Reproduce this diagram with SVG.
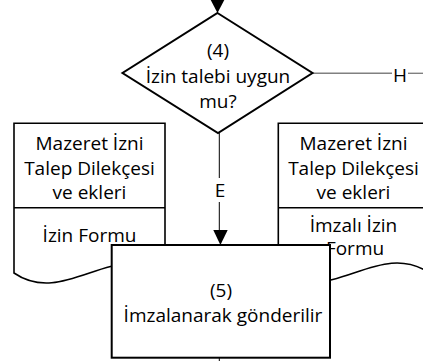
<svg xmlns="http://www.w3.org/2000/svg" width="423" height="361" viewBox="0 0 423 361">
<style>
.t{font-family:"Open Sans","Noto Sans","Liberation Sans",sans-serif;font-size:19px;fill:#000;text-anchor:middle}
.shape{fill:#fff;stroke:#000;stroke-width:1.6}
.thick{fill:#fff;stroke:#000;stroke-width:2}
.conn{fill:none;stroke:#000;stroke-width:1}
.gray{fill:none;stroke:#808080;stroke-width:1.4}
</style>
<rect width="423" height="361" fill="#fff"/>
<g id="doc-left">
<path class="shape" d="M14,273 L14,123.3 L165,123.3 L165,273 C114.7,238.4 64.3,307.6 14,273 Z"/>
<line class="shape" x1="14" y1="207.7" x2="165" y2="207.7"/>
<text class="t" x="89.5" y="150">Mazeret İzni</text>
<text class="t" x="89.5" y="175">Talep Dilekçesi</text>
<text class="t" x="89.5" y="199">ve ekleri</text>
<text class="t" x="89.5" y="241.5">İzin Formu</text>
</g>
<g id="doc-right">
<path class="shape" d="M278.3,273 L278.3,123.3 L429.3,123.3 L429.3,273 C379,238.4 328.6,307.6 278.3,273 Z"/>
<line class="shape" x1="278.3" y1="207.7" x2="429.3" y2="207.7"/>
<text class="t" x="353.5" y="150">Mazeret İzni</text>
<text class="t" x="353.5" y="175">Talep Dilekçesi</text>
<text class="t" x="353.5" y="199">ve ekleri</text>
<text class="t" x="353.5" y="231.5">İmzalı İzin</text>
<text class="t" x="355" y="255">Formu</text>
</g>
<g id="connectors">
<polygon points="210.7,0 224.3,0 217.5,13" fill="#000"/>
<line class="gray" x1="312.5" y1="73.3" x2="392" y2="73.3"/>
<line class="gray" x1="408" y1="73.3" x2="423" y2="73.3"/>
<text class="t" x="400" y="81.7">H</text>
<line class="conn" x1="219.3" y1="133" x2="219.3" y2="178"/>
<line class="conn" x1="219.3" y1="202" x2="219.3" y2="231"/>
<polygon points="213.3,230 227.7,230 220.4,245" fill="#000"/>
<text class="t" x="220" y="196.7">E</text>
<line class="conn" x1="219.3" y1="357" x2="219.3" y2="361"/>
</g>
<g id="decision-4">
<polygon class="thick" points="217.5,13 312.5,73 218,133 122.5,73"/>
<text class="t" x="218" y="57">(4)</text>
<text class="t" x="218" y="83">İzin talebi uygun</text>
<text class="t" x="218" y="108">mu?</text>
</g>
<g id="process-5">
<rect class="thick" x="111.7" y="245" width="218.3" height="112.7"/>
<text class="t" x="221" y="297">(5)</text>
<text class="t" x="223" y="321.7">İmzalanarak gönderilir</text>
</g>
</svg>
